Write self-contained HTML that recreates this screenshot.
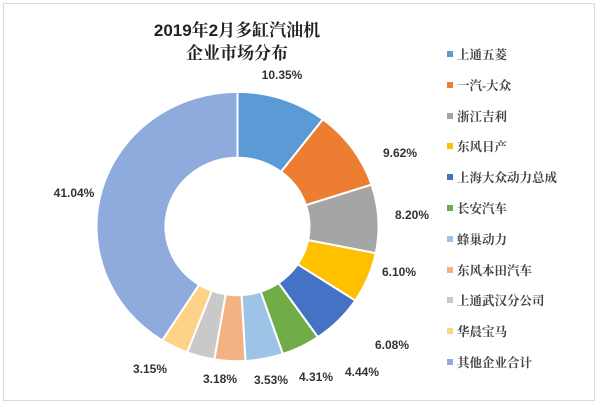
<!DOCTYPE html>
<html><head><meta charset="utf-8"><style>
body{margin:0;background:#fff;}
.w{position:relative;width:600px;height:403px;overflow:hidden;font-family:"Liberation Sans","Noto Sans CJK SC",sans-serif;}
.frame{position:absolute;left:3px;top:3px;width:590px;height:396px;border:1px solid #d9d9d9;}
.t{position:absolute;left:117px;width:240px;text-align:center;font-size:17px;font-weight:bold;color:#222;font-family:"Liberation Sans","Noto Serif CJK SC",serif;}
.lb{position:absolute;font-size:12px;font-weight:bold;color:#333;transform:translate(-50%,-50%);white-space:nowrap;}
.lg{position:absolute;left:447px;font-size:12.5px;color:#444;font-family:"Liberation Serif","Noto Serif CJK SC",serif;font-weight:bold;white-space:nowrap;}
.lg i{display:inline-block;width:6px;height:6px;margin-right:4px;vertical-align:middle;position:relative;top:-2px;}
</style></head><body><div class="w">
<div class="frame"></div>
<div class="t" style="top:16px">2019年2月多缸汽油机</div>
<div class="t" style="top:39px">企业市场分布</div>
<svg id="s" width="600" height="403" style="position:absolute;left:0;top:0"></svg>
<div class="lb" style="left:282px;top:75px">10.35%</div>
<div class="lb" style="left:400px;top:153px">9.62%</div>
<div class="lb" style="left:412px;top:215px">8.20%</div>
<div class="lb" style="left:399px;top:272px">6.10%</div>
<div class="lb" style="left:392px;top:345px">6.08%</div>
<div class="lb" style="left:362px;top:372px">4.44%</div>
<div class="lb" style="left:316px;top:377px">4.31%</div>
<div class="lb" style="left:271px;top:380px">3.53%</div>
<div class="lb" style="left:220px;top:379px">3.18%</div>
<div class="lb" style="left:150px;top:369px">3.15%</div>
<div class="lb" style="left:74px;top:193px">41.04%</div>
<div class="lg" style="top:45px"><i style="background:#5b9bd5"></i>上通五菱</div>
<div class="lg" style="top:76px"><i style="background:#ed7d31"></i>一汽-大众</div>
<div class="lg" style="top:107px"><i style="background:#a5a5a5"></i>浙江吉利</div>
<div class="lg" style="top:137px"><i style="background:#ffc000"></i>东风日产</div>
<div class="lg" style="top:168px"><i style="background:#4472c4"></i>上海大众动力总成</div>
<div class="lg" style="top:199px"><i style="background:#70ad47"></i>长安汽车</div>
<div class="lg" style="top:230px"><i style="background:#9dc3e6"></i>蜂巢动力</div>
<div class="lg" style="top:261px"><i style="background:#f4b183"></i>东风本田汽车</div>
<div class="lg" style="top:291px"><i style="background:#c9c9c9"></i>上通武汉分公司</div>
<div class="lg" style="top:322px"><i style="background:#ffd28a"></i>华晨宝马</div>
<div class="lg" style="top:353px"><i style="background:#8faadc"></i>其他企业合计</div>
</div>
<script>
var v=[10.35,9.62,8.20,6.10,6.08,4.44,4.31,3.53,3.18,3.15,41.04];
var c=["#5b9bd5","#ed7d31","#a5a5a5","#ffc000","#4472c4","#70ad47","#9dc3e6","#f4b183","#c9c9c9","#ffd28a","#8faadc"];
var cx=237.5,cy=226.5,R=141,r=72,sy=0.955,a=0,h="";
function p(rad,ang){return (cx+rad*Math.sin(ang)).toFixed(2)+","+(cy-rad*Math.cos(ang)*sy).toFixed(2);}
for(var i=0;i<v.length;i++){var a0=a/100*2*Math.PI;a+=v[i];var a1=a/100*2*Math.PI;var L=(a1-a0)>Math.PI?1:0;
h+='<path d="M'+p(R,a0)+' A'+R+','+(R*sy)+' 0 '+L+' 1 '+p(R,a1)+' L'+p(r,a1)+' A'+r+','+(r*sy)+' 0 '+L+' 0 '+p(r,a0)+' Z" fill="'+c[i]+'" stroke="#fff" stroke-width="2"/>';}
document.getElementById("s").innerHTML=h;
</script>
</body></html>
